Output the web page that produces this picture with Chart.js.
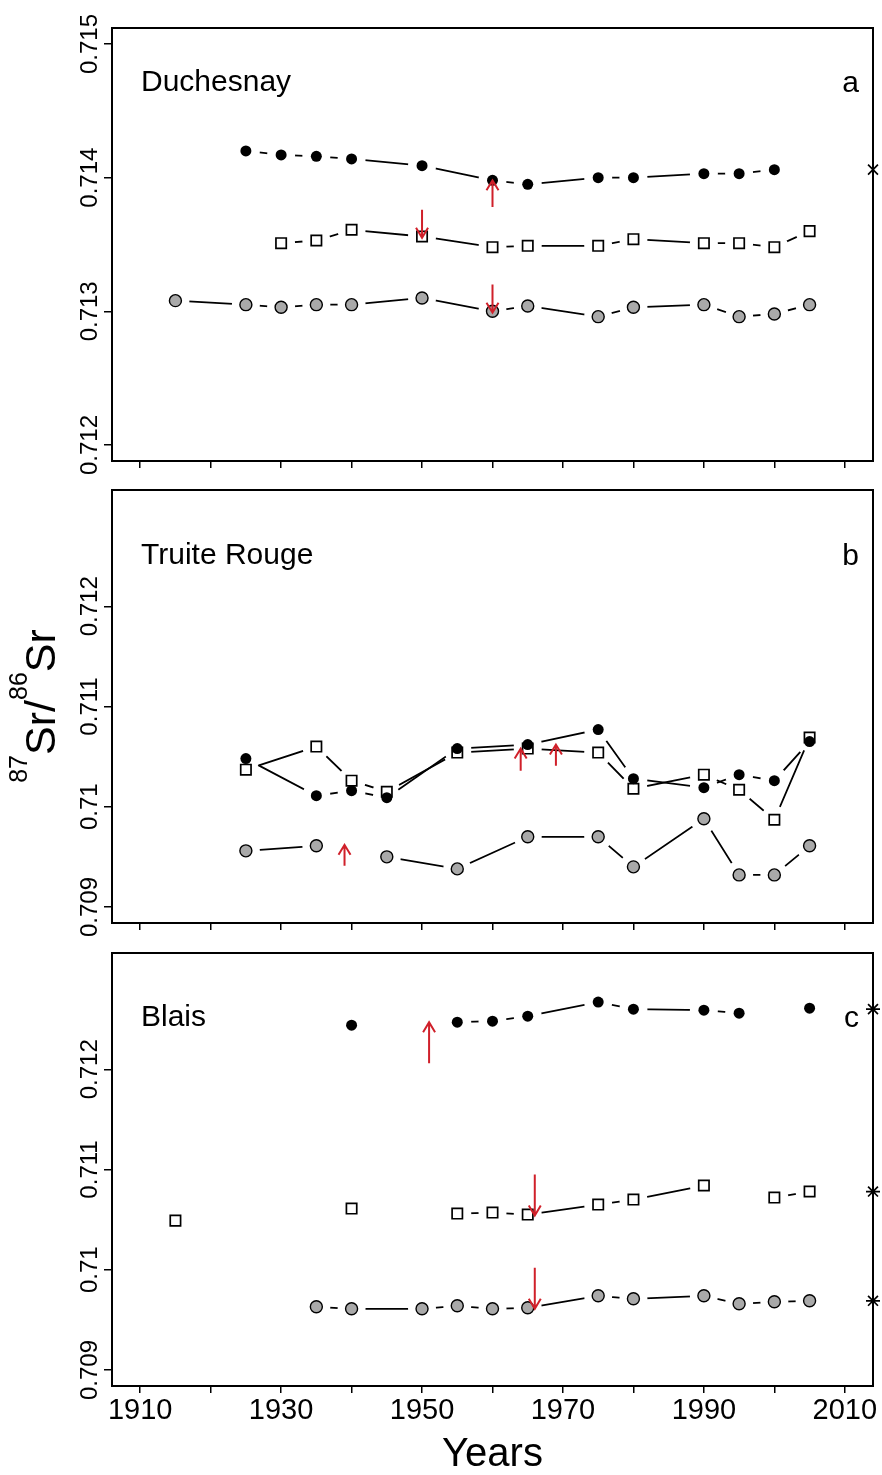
<!DOCTYPE html>
<html>
<head>
<meta charset="utf-8">
<script src="https://cdn.jsdelivr.net/npm/chart.js@4.4.1/dist/chart.umd.min.js"></script>
<style>
  body { margin: 0; background: #fff; width: 882px; height: 1475px; position: relative; overflow: hidden; }
  canvas { position: absolute; left: 0; }
</style>
</head>
<body>
<canvas id="chartA" width="882" height="480" style="top:0"></canvas>
<canvas id="chartB" width="882" height="460" style="top:480px"></canvas>
<canvas id="chartC" width="882" height="535" style="top:940px"></canvas>
<script>
// ---- axis ticks ----
const xTicks = [1910, 1920, 1930, 1940, 1950, 1960, 1970, 1980, 1990, 2000, 2010];
const xLabels = [1910, 1930, 1950, 1970, 1990, 2010];
const yTicksA = [0.712, 0.713, 0.714, 0.715];
const yLabelsA = ["0.712", "0.713", "0.714", "0.715"];
const yTicksBC = [0.709, 0.71, 0.711, 0.712];
const yLabelsBC = ["0.709", "0.71", "0.711", "0.712"];

// ---- a: Duchesnay ----
const duchFilledYears = [1925, 1930, 1935, 1940, 1950, 1960, 1965, 1975, 1980, 1990, 1995, 2000];
const duchFilled = [0.7142, 0.71417, 0.71416, 0.71414, 0.71409, 0.71398, 0.71395, 0.714, 0.714, 0.71403, 0.71403, 0.71406];
const duchSquareYears = [1930, 1935, 1940, 1950, 1960, 1965, 1975, 1980, 1990, 1995, 2000, 2005];
const duchSquare = [0.71351, 0.71353, 0.71361, 0.71356, 0.71348, 0.71349, 0.71349, 0.71354, 0.71351, 0.71351, 0.71348, 0.7136];
const duchGreyYears = [1915, 1925, 1930, 1935, 1940, 1950, 1960, 1965, 1975, 1980, 1990, 1995, 2000, 2005];
const duchGrey = [0.71308, 0.71305, 0.71303, 0.71305, 0.71305, 0.7131, 0.713, 0.71304, 0.71296, 0.71303, 0.71305, 0.71296, 0.71298, 0.71305];
const duchRefs = [[2014, 0.71406]];
const duchArrows = [[1950, 0.71376, 0.71355], [1960, 0.71378, 0.71398], [1960, 0.7132, 0.71299]];

// ---- b: Truite Rouge ----
const truiteYears = [1925, 1935, 1940, 1945, 1955, 1965, 1975, 1980, 1990, 1995, 2000, 2005];
const truiteFilled = [0.71048, 0.71011, 0.71016, 0.71009, 0.71058, 0.71062, 0.71077, 0.71028, 0.71019, 0.71032, 0.71026, 0.71065];
const truiteSquare = [0.71037, 0.7106, 0.71026, 0.71015, 0.71054, 0.71058, 0.71054, 0.71018, 0.71032, 0.71017, 0.70987, 0.71069];
const truiteGrey = [0.70956, 0.70961, null, 0.7095, 0.70938, 0.7097, 0.7097, 0.7094, 0.70988, 0.70932, 0.70932, 0.70961];
const truiteArrows = [[1939, 0.70941, 0.70962], [1964, 0.71036, 0.71058], [1969, 0.71041, 0.71062]];

// ---- c: Blais ----
const blaisFilledYears = [1940, 1950, 1955, 1960, 1965, 1975, 1980, 1990, 1995, 2000, 2005];
const blaisFilled = [0.71244, null, 0.71247, 0.71248, 0.71253, 0.71267, 0.7126, 0.71259, 0.71256, null, 0.71261];
const blaisSquareYears = [1915, 1930, 1940, 1950, 1955, 1960, 1965, 1975, 1980, 1990, 1995, 2000, 2005];
const blaisSquare = [0.71049, null, 0.71061, null, 0.71056, 0.71057, 0.71055, 0.71065, 0.7107, 0.71084, null, 0.71072, 0.71078];
const blaisGreyYears = [1935, 1940, 1950, 1955, 1960, 1965, 1975, 1980, 1990, 1995, 2000, 2005];
const blaisGrey = [0.70963, 0.70961, 0.70961, 0.70964, 0.70961, 0.70962, 0.70974, 0.70971, 0.70974, 0.70966, 0.70968, 0.70969];
const blaisRefs = [[2014, 0.7126], [2014, 0.71078], [2014, 0.70969]];
const blaisArrows = [[1951, 0.71206, 0.71247], [1966, 0.71095, 0.71054], [1966, 0.71002, 0.70961]];

const FONT = "'Liberation Sans', Arial, Helvetica, sans-serif";
const RED = "#d0202a";
const GAP = 14;

const markerStyles = {
  filled: { pointStyle: "circle", pointRadius: 5.5, pointBackgroundColor: "#000", pointBorderColor: "#000", pointBorderWidth: 0 },
  square: { pointStyle: "rect", pointRadius: 7.3, pointBackgroundColor: "#fff", pointBorderColor: "#000", pointBorderWidth: 1.7 },
  grey: { pointStyle: "circle", pointRadius: 6, pointBackgroundColor: "#a9a9a9", pointBorderColor: "#000", pointBorderWidth: 1.4 },
};

const toPoints = (xs, ys) => xs.map((x, i) => ({ x, y: ys[i] }));

function drawArrow(ctx, x, y0, y1) {
  const dir = Math.sign(y1 - y0);
  ctx.beginPath();
  ctx.moveTo(x, y0);
  ctx.lineTo(x, y1);
  ctx.moveTo(x - 6, y1 - dir * 10);
  ctx.lineTo(x, y1);
  ctx.lineTo(x + 6, y1 - dir * 10);
  ctx.stroke();
}

// R type="b" leaves a gap in the line around each of its own points
const framePlugin = {
  id: "frame",
  beforeDatasetDraw(chart, args) {
    if (!chart.data.datasets[args.index].gapLine) return;
    const ctx = chart.ctx;
    ctx.save();
    ctx.beginPath();
    ctx.rect(0, 0, chart.width, chart.height);
    args.meta.data.forEach((p) => {
      if (p.skip) return;
      ctx.moveTo(p.x + GAP, p.y);
      ctx.arc(p.x, p.y, GAP, 0, Math.PI * 2);
    });
    ctx.clip("evenodd");
  },
  afterDatasetDraw(chart, args) {
    if (chart.data.datasets[args.index].gapLine) chart.ctx.restore();
  },
  afterDraw(chart, _args, opts) {
    const { ctx, chartArea: a, scales } = chart;
    ctx.save();
    ctx.strokeStyle = "#000";
    ctx.lineWidth = 2;
    ctx.strokeRect(a.left, a.top, a.right - a.left, a.bottom - a.top);

    // rotated y tick labels
    ctx.fillStyle = "#000";
    ctx.font = `24px ${FONT}`;
    ctx.textAlign = "center";
    ctx.textBaseline = "alphabetic";
    opts.yTicks.forEach((v, i) => {
      ctx.save();
      ctx.translate(97, scales.y.getPixelForValue(v));
      ctx.rotate(-Math.PI / 2);
      ctx.fillText(opts.yLabels[i], 0, 0);
      ctx.restore();
    });

    // panel name and letter
    ctx.font = `30px ${FONT}`;
    ctx.textAlign = "left";
    ctx.fillText(opts.name, 141, opts.nameBaseline);
    ctx.textAlign = "right";
    ctx.fillText(opts.letter, 859, opts.nameBaseline + 1);

    // red arrows
    ctx.strokeStyle = RED;
    ctx.lineWidth = 2;
    opts.arrows.forEach(([yr, from, to]) => {
      const x = scales.x.getPixelForValue(yr);
      drawArrow(ctx, x, scales.y.getPixelForValue(from), scales.y.getPixelForValue(to));
    });

    if (opts.yTitle) {
      const big = `43px ${FONT}`;
      const small = `25px ${FONT}`;
      const parts = [["87", small, true], ["Sr", big, false], ["/", big, false], ["86", small, true], ["Sr", big, false]];
      let total = 0;
      parts.forEach((p) => { ctx.font = p[1]; total += ctx.measureText(p[0]).width; });
      ctx.translate(55, 226);
      ctx.rotate(-Math.PI / 2);
      ctx.textAlign = "left";
      let x = -total / 2;
      parts.forEach(([t, f, sup]) => {
        ctx.font = f;
        ctx.fillText(t, x, sup ? -28 : 0);
        x += ctx.measureText(t).width;
      });
    }
    ctx.restore();
  },
};

function makePanel(id, cfg) {
  const datasets = [];
  if (cfg.refs) {
    datasets.push({
      data: cfg.refs.map(([x, y]) => ({ x, y })),
      showLine: false,
      pointStyle: cfg.refStyle,
      pointRadius: 7,
      pointBorderColor: "#000",
      pointBorderWidth: 1.7,
      clip: false,
    });
  }
  cfg.series.forEach((s) => {
    datasets.push({ data: toPoints(s.years, s.values), showLine: false, clip: false, ...markerStyles[s.kind] });
  });
  cfg.series.forEach((s) => {
    datasets.push({
      data: toPoints(s.years, s.values),
      gapLine: true,
      pointRadius: 0,
      borderColor: "#000",
      borderWidth: 1.8,
      tension: 0,
      spanGaps: false,
    });
  });

  return new Chart(document.getElementById(id), {
    type: "line",
    data: { datasets },
    plugins: [framePlugin],
    options: {
      responsive: false,
      devicePixelRatio: 1,
      animation: false,
      events: [],
      layout: { padding: { top: cfg.top, right: 7, left: 0, bottom: 0 } },
      plugins: {
        legend: { display: false },
        tooltip: { enabled: false },
        frame: {
          yTicks: cfg.yTicks,
          yLabels: cfg.yLabels,
          name: cfg.name,
          letter: cfg.letter,
          nameBaseline: cfg.nameBaseline,
          arrows: cfg.arrows,
          yTitle: cfg.yTitle || false,
        },
      },
      scales: {
        x: {
          type: "linear",
          min: 1906,
          max: 2014,
          afterBuildTicks: (s) => { s.ticks = xTicks.map((v) => ({ value: v })); },
          afterFit: (s) => { s.height = cfg.xHeight; },
          border: { display: false },
          grid: { drawOnChartArea: false, drawTicks: true, tickLength: 7, color: "#000", lineWidth: 1.5 },
          ticks: {
            display: true,
            autoSkip: false,
            maxRotation: 0,
            padding: 1,
            color: "#000",
            font: { family: FONT, size: 29 },
            callback: (v) => (cfg.showX && xLabels.includes(v) ? String(v) : ""),
          },
          title: {
            display: cfg.showX,
            text: "Years",
            color: "#000",
            font: { family: FONT, size: 40, lineHeight: 1 },
            padding: 0,
          },
        },
        y: {
          min: cfg.yMin,
          max: cfg.yMax,
          afterBuildTicks: (s) => { s.ticks = cfg.yTicks.map((v) => ({ value: v })); },
          afterFit: (s) => { s.width = 112; },
          border: { display: false },
          grid: { drawOnChartArea: false, drawTicks: true, tickLength: 8, color: "#000", lineWidth: 1.5 },
          ticks: { display: false },
        },
      },
    },
  });
}

makePanel("chartA", {
  top: 28, xHeight: 19, showX: false,
  yMin: 0.71188, yMax: 0.71512, yTicks: yTicksA, yLabels: yLabelsA,
  name: "Duchesnay", letter: "a", nameBaseline: 91,
  arrows: duchArrows, refs: duchRefs, refStyle: "crossRot",
  series: [
    { kind: "filled", years: duchFilledYears, values: duchFilled },
    { kind: "square", years: duchSquareYears, values: duchSquare },
    { kind: "grey", years: duchGreyYears, values: duchGrey },
  ],
});

makePanel("chartB", {
  top: 10, xHeight: 17, showX: false,
  yMin: 0.70884, yMax: 0.71316, yTicks: yTicksBC, yLabels: yLabelsBC,
  name: "Truite Rouge", letter: "b", nameBaseline: 84,
  arrows: truiteArrows, yTitle: true,
  series: [
    { kind: "filled", years: truiteYears, values: truiteFilled },
    { kind: "square", years: truiteYears, values: truiteSquare },
    { kind: "grey", years: truiteYears, values: truiteGrey },
  ],
});

makePanel("chartC", {
  top: 13, xHeight: 89, showX: true,
  yMin: 0.70884, yMax: 0.71316, yTicks: yTicksBC, yLabels: yLabelsBC,
  name: "Blais", letter: "c", nameBaseline: 86,
  arrows: blaisArrows, refs: blaisRefs, refStyle: "star",
  series: [
    { kind: "filled", years: blaisFilledYears, values: blaisFilled },
    { kind: "square", years: blaisSquareYears, values: blaisSquare },
    { kind: "grey", years: blaisGreyYears, values: blaisGrey },
  ],
});
</script>
</body>
</html>
